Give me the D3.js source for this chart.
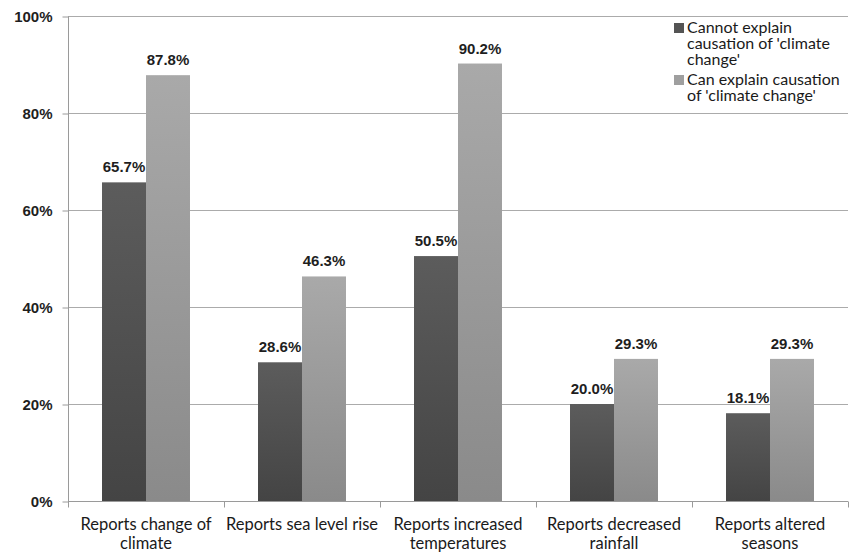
<!DOCTYPE html>
<html>
<head>
<meta charset="utf-8">
<script src="https://cdn.jsdelivr.net/npm/d3@7"></script>
<style>
  body { margin: 0; background: #fff; }
  svg { display: block; }
</style>
</head>
<body>
<div id="chart"></div>
<script>
const categories = [
  ["Reports change of", "climate"],
  ["Reports sea level rise"],
  ["Reports increased", "temperatures"],
  ["Reports decreased", "rainfall"],
  ["Reports altered", "seasons"]
];
const seriesNames = [
  "Cannot explain causation of 'climate change'",
  "Can explain causation of 'climate change'"
];
const cannotExplain = [65.7, 28.6, 50.5, 20.0, 18.1];
const canExplain = [87.8, 46.3, 90.2, 29.3, 29.3];
const yTicks = [0, 20, 40, 60, 80, 100];
// legend entries wrapped the way the reference wraps them
const legendLines = [
  ["Cannot explain", "causation of 'climate", "change'"],
  ["Can explain causation", "of 'climate change'"]
];

const width = 861, height = 555;
const plotLeft = 68, plotRight = 848, plotTop = 16, plotBottom = 501;

const svg = d3.select("#chart").append("svg")
  .attr("width", width)
  .attr("height", height);

const defs = svg.append("defs");
const grads = [
  { id: "g0", c1: "#5c5c5c", c2: "#444444" },
  { id: "g1", c1: "#a9a9a9", c2: "#8a8a8a" }
];
grads.forEach(g => {
  const lg = defs.append("linearGradient")
    .attr("id", g.id).attr("x1", 0).attr("y1", 0).attr("x2", 0).attr("y2", 1);
  lg.append("stop").attr("offset", "0%").attr("stop-color", g.c1);
  lg.append("stop").attr("offset", "100%").attr("stop-color", g.c2);
});

const keys = categories.map((c, i) => "c" + i);

const x0 = d3.scaleBand()
  .domain(keys)
  .range([plotLeft, plotRight])
  .padding(0);

const x1 = d3.scaleBand()
  .domain([0, 1])
  .range([0, x0.bandwidth()])
  .paddingInner(0)
  .paddingOuter(0.773);

const y = d3.scaleLinear()
  .domain([0, 100])
  .range([plotBottom, plotTop]);

// gridlines
svg.append("g")
  .selectAll("line")
  .data(yTicks.filter(d => d > 0))
  .enter()
  .append("line")
  .attr("x1", plotLeft)
  .attr("x2", plotRight)
  .attr("y1", d => y(d) + 0.5)
  .attr("y2", d => y(d) + 0.5)
  .attr("stroke", "#ababab")
  .attr("stroke-width", 1);

// y axis
const yAxis = svg.append("g")
  .attr("transform", `translate(${plotLeft + 0.5},0.5)`)
  .call(d3.axisLeft(y).tickValues(yTicks).tickFormat(d => d + "%").tickSize(6).tickPadding(10));
yAxis.select(".domain").attr("stroke", "#9a9a9a").attr("d", `M0,${plotTop}V${plotBottom}`);
yAxis.selectAll(".tick line").attr("stroke", "#9a9a9a");
yAxis.selectAll(".tick text")
  .attr("fill", "#1e1e1e")
  .style("font-family", "'Liberation Sans', Arial, sans-serif")
  .style("font-weight", "bold")
  .style("font-size", "15px");

// bars
const data = keys.map((k, i) => ({ key: k, values: [cannotExplain[i], canExplain[i]] }));

const groups = svg.append("g")
  .selectAll("g")
  .data(data)
  .enter()
  .append("g")
  .attr("transform", d => `translate(${x0(d.key)},0)`);

groups.selectAll("rect")
  .data(d => d.values.map((v, s) => ({ v, s })))
  .enter()
  .append("rect")
  .attr("x", d => x1(d.s))
  .attr("width", x1.bandwidth())
  .attr("y", d => y(d.v))
  .attr("height", d => plotBottom - y(d.v))
  .attr("fill", d => `url(#g${d.s})`);

groups.selectAll("text")
  .data(d => d.values.map((v, s) => ({ v, s })))
  .enter()
  .append("text")
  .attr("x", d => x1(d.s) + x1.bandwidth() / 2)
  .attr("y", d => y(d.v) - 10)
  .attr("text-anchor", "middle")
  .attr("fill", "#1e1e1e")
  .style("font-family", "'Liberation Sans', Arial, sans-serif")
  .style("font-weight", "bold")
  .style("font-size", "15px")
  .text(d => d.v.toFixed(1) + "%");

// x axis
const xAxis = svg.append("g")
  .attr("transform", `translate(0,${plotBottom + 0.5})`);
xAxis.append("line")
  .attr("x1", plotLeft)
  .attr("x2", plotRight)
  .attr("stroke", "#9a9a9a");
xAxis.selectAll("line.tick")
  .data(keys.concat(["end"]))
  .enter()
  .append("line")
  .attr("class", "tick")
  .attr("x1", d => (d === "end" ? plotRight : x0(d)) + 0.5)
  .attr("x2", d => (d === "end" ? plotRight : x0(d)) + 0.5)
  .attr("y1", 0)
  .attr("y2", 6)
  .attr("stroke", "#9a9a9a");

const catText = xAxis.selectAll("text")
  .data(data)
  .enter()
  .append("text")
  .attr("x", d => x0(d.key) + x0.bandwidth() / 2)
  .attr("y", 28)
  .attr("text-anchor", "middle")
  .attr("fill", "#1a1a1a")
  .style("font-family", "Lato, 'Open Sans', sans-serif")
  .style("font-size", "16.5px");
catText.selectAll("tspan")
  .data((d, i) => categories[i])
  .enter()
  .append("tspan")
  .attr("x", function () { return d3.select(this.parentNode).attr("x"); })
  .attr("dy", (d, j) => j === 0 ? 0 : 19)
  .text(d => d);

// legend
const legend = svg.append("g").attr("transform", "translate(674,0)");
const legendY = [33, 85];
legendLines.forEach((lines, s) => {
  legend.append("rect")
    .attr("x", 0)
    .attr("y", legendY[s] - 10)
    .attr("width", 10)
    .attr("height", 10)
    .attr("fill", s === 0 ? "#545454" : "#9f9f9f");
  const t = legend.append("text")
    .attr("y", legendY[s])
    .attr("fill", "#1a1a1a")
    .style("font-family", "Lato, 'Open Sans', sans-serif")
    .style("font-size", "16px");
  t.selectAll("tspan")
    .data(lines)
    .enter()
    .append("tspan")
    .attr("x", 13)
    .attr("dy", (d, j) => j === 0 ? 0 : 16)
    .text(d => d);
});
</script>
</body>
</html>
